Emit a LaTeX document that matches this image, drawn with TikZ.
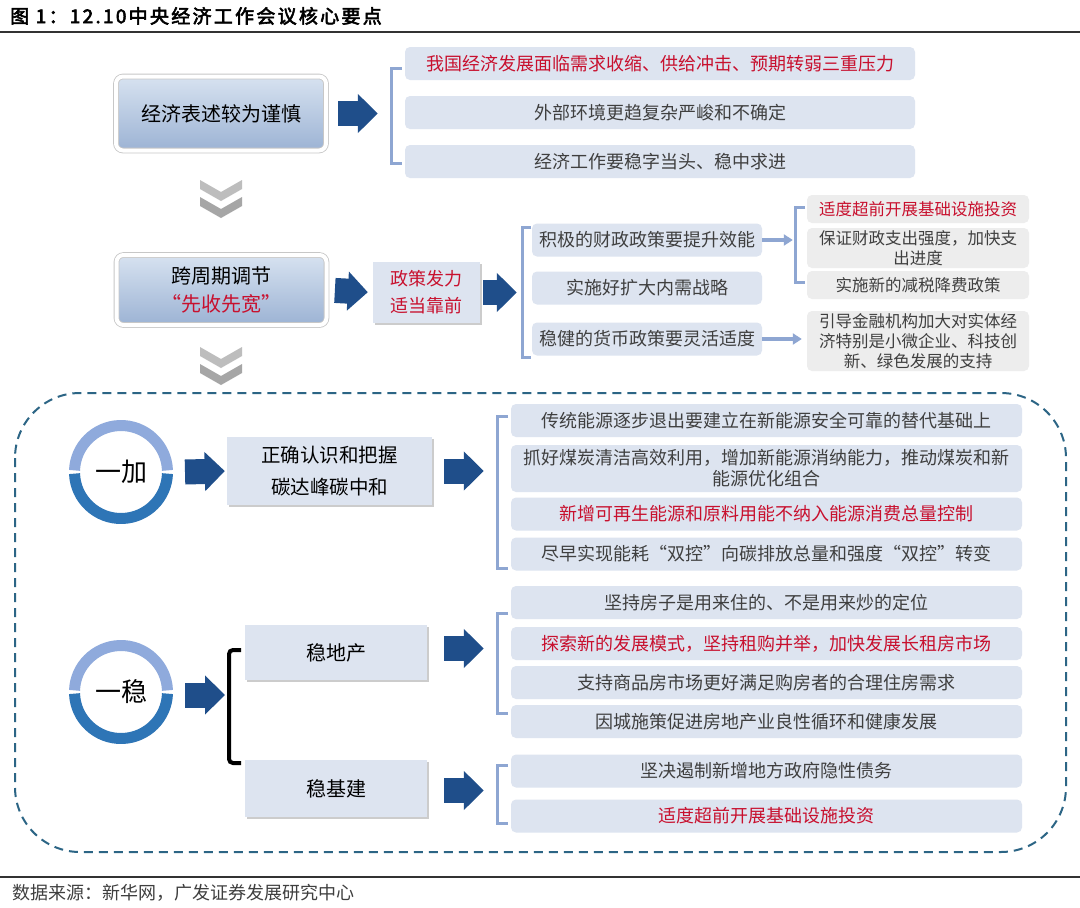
\documentclass[tikz,border=0pt]{standalone}
\usepackage{fontspec}
\setmainfont{Noto Sans CJK SC}[AutoFakeBold=2.5]
\newfontfamily\titlefont{Noto Sans CJK SC}[LetterSpace=12,AutoFakeBold=3]
\usetikzlibrary{shadows,arrows.meta}
\definecolor{boxblue}{HTML}{DDE4F0}
\definecolor{boxgray}{HTML}{EDEDED}
\definecolor{topblue}{HTML}{D7E2F0}
\definecolor{botblue}{HTML}{9CB3D4}
\definecolor{arrowblue}{HTML}{1F4E8A}
\definecolor{brkblue}{HTML}{8EA6D2}
\definecolor{ringtop}{HTML}{8FAADC}
\definecolor{ringbot}{HTML}{2E75B6}
\definecolor{frameblue}{HTML}{2C6585}
\definecolor{keyred}{HTML}{C8102E}
\definecolor{chevlight}{HTML}{BDBDBD}
\definecolor{chevgray}{HTML}{A6A6A6}
\definecolor{txtgray}{HTML}{3F3F3F}
\begin{document}
\begin{tikzpicture}[x=1pt,y=1pt,
  every node/.style={inner sep=0pt,font=\fontsize{18}{21}\selectfont},
  mainbox/.style={draw=black!22,line width=0.8pt,double=white,double distance=4pt,rounded corners=7pt,
    top color=topblue,bottom color=botblue,
    minimum width=210pt,minimum height=74pt,align=center,font=\fontsize{20}{28}\selectfont,
    drop shadow={shadow xshift=1pt,shadow yshift=-2pt,opacity=0.3}},
  listbox/.style={fill=boxblue,rounded corners=5pt,minimum height=33pt,text=txtgray,align=center},
  graybox/.style={fill=boxgray,rounded corners=5pt,minimum width=222pt,text=txtgray,align=center,
    font=\fontsize{16.5}{20}\selectfont},
  keybox/.style={fill=boxblue,align=center,font=\fontsize{20}{32}\selectfont,
    drop shadow={shadow xshift=2pt,shadow yshift=-2pt,opacity=0.4}},
  keytext/.style={text=keyred},
  ringlbl/.style={font=\fontsize{26}{26}\selectfont},
  blockarr/.style={draw=arrowblue,line width=25pt,-{Triangle[length=20pt,width=38pt]}},
  thinarr/.style={draw=brkblue,line width=3.5pt,-{Triangle[length=9pt,width=11pt]}},
  brkt/.style={draw=brkblue,line width=3pt},
  frame/.style={draw=frameblue,line width=2pt,dash pattern=on 9pt off 6pt,rounded corners=65pt}
]
\fill[white] (0,0) rectangle (1080,-908);
\useasboundingbox (0,0) rectangle (1080,-908);

\node[anchor=west,font=\titlefont\bfseries\fontsize{19}{22}\selectfont] (ttl) at (10,-16) {图 1：12.10中央经济工作会议核心要点};
\draw[line width=1.5pt,black!80] (0,-32) -- (1080,-32);
\draw[line width=1.5pt,black!80] (0,-877) -- (1080,-877);
\node[anchor=west,text=txtgray] (src) at (12,-893) {数据来源：新华网，广发证券发展研究中心};

\node[mainbox] (eco) at (221,-113.5) {经济表述较为谨慎};
\node[listbox,keytext,minimum width=510pt] (s1a) at (660,-63.5) {我国经济发展面临需求收缩、供给冲击、预期转弱三重压力};
\node[listbox,minimum width=510pt] (s1b) at (660,-112.5) {外部环境更趋复杂严峻和不确定};
\node[listbox,minimum width=510pt] (s1c) at (660,-161.5) {经济工作要稳字当头、稳中求进};
\draw[blockarr,shorten <=12pt,shorten >=27pt] (eco.east) -- (eco.east -| s1b.west);
\draw[brkt] (402,-68) -- (391,-68) -- (391,-163) -- (402,-163);

\foreach \cy in {180,347}
  \foreach \dy/\c in {0/chevlight,17/chevgray}
    \fill[\c] (200,-\cy-\dy) -- (221,-\cy-\dy-12) -- (242,-\cy-\dy) -- (242,-\cy-\dy-9)
      -- (221,-\cy-\dy-21) -- (200,-\cy-\dy-9) -- cycle;

\node[mainbox,minimum height=70pt] (cyc) at (221.5,-290) {跨周期调节\\\textcolor{keyred}{“先收先宽”}};
\node[keybox,keytext,minimum width=107pt,minimum height=61pt,font=\fontsize{18}{27}\selectfont] (pol) at (426.5,-292.5) {政策发力\\适当靠前};
\node[listbox,minimum width=230pt] (fis) at (647,-240) {积极的财政政策要提升效能};
\node[listbox,minimum width=230pt] (dom) at (647,-288) {实施好扩大内需战略};
\node[listbox,minimum width=230pt] (mon) at (647,-339) {稳健的货币政策要灵活适度};
\node[graybox,keytext,minimum height=28pt] (r1) at (918,-209) {适度超前开展基础设施投资};
\node[graybox,minimum height=40pt] (r2) at (918,-248) {保证财政支出强度，加快支\\出进度};
\node[graybox,minimum height=28pt] (r3) at (918,-285) {实施新的减税降费政策};
\node[graybox,minimum height=60pt] (r4) at (918,-341) {引导金融机构加大对实体经\\济特别是小微企业、科技创\\新、绿色发展的支持};
\draw[blockarr,shorten <=8pt,shorten >=5pt] (cyc.east) -- (pol.west);
\draw[blockarr,shorten <=3pt,shorten >=15pt] (pol.east) -- (pol.east -| fis.west);
\draw[brkt] (531,-227) -- (522,-227) -- (522,-357) -- (531,-357);
\draw[thinarr,shorten >=14pt] (fis.east) -- (fis.east -| r1.west);
\draw[thinarr,shorten >=5pt] (mon.east) -- (mon.east -| r4.west);
\draw[brkt] (805,-207) -- (795,-207) -- (795,-282) -- (805,-282);

\draw[frame] (15,-393) rectangle (1066,-852);

\node[ringlbl] (jia) at (121,-472) {一加};
\draw[ringtop,line width=11pt] ([shift={(2:46.5)}]jia.center) arc (2:178:46.5);
\draw[ringbot,line width=11pt] ([shift={(182:46.5)}]jia.center) arc (182:358:46.5);
\node[keybox,minimum width=205pt,minimum height=68pt,font=\fontsize{19.5}{32}\selectfont] (carb) at (329.5,-471) {正确认识和把握\\碳达峰碳中和};
\node[listbox,minimum width=511pt] (c1) at (766.5,-420.5) {传统能源逐步退出要建立在新能源安全可靠的替代基础上};
\node[listbox,minimum width=511pt,minimum height=47pt] (c2) at (766.5,-468.5) {抓好煤炭清洁高效利用，增加新能源消纳能力，推动煤炭和新\\能源优化组合};
\node[listbox,keytext,minimum width=511pt] (c3) at (766.5,-514) {新增可再生能源和原料用能不纳入能源消费总量控制};
\node[listbox,minimum width=511pt] (c4) at (766.5,-554) {尽早实现能耗“双控”向碳排放总量和强度“双控”转变};
\draw[blockarr,shorten >=2pt] ([xshift=64pt]jia.center) -- (carb.west);
\draw[blockarr,shorten <=12pt,shorten >=27pt] (carb.east) -- (carb.east -| c2.west);
\draw[brkt] (508,-416) -- (497,-416) -- (497,-568) -- (508,-568);

\node[ringlbl] (wen) at (121,-692) {一稳};
\draw[ringtop,line width=11pt] ([shift={(2:46.5)}]wen.center) arc (2:178:46.5);
\draw[ringbot,line width=11pt] ([shift={(182:46.5)}]wen.center) arc (182:358:46.5);
\node[keybox,minimum width=182pt,minimum height=55pt] (prop) at (336,-652.5) {稳地产};
\node[keybox,minimum width=182pt,minimum height=57pt] (infra) at (336,-788.5) {稳基建};
\draw[blockarr] ([xshift=64pt,yshift=-3pt]wen.center) -- ++(40,0);
\draw[black,line width=4pt,rounded corners=4pt] (241,-650) -- (229,-650) -- (229,-763) -- (241,-763);
\node[listbox,minimum width=511pt] (p1) at (766.5,-602.5) {坚持房子是用来住的、不是用来炒的定位};
\node[listbox,keytext,minimum width=511pt] (p2) at (766.5,-643.5) {探索新的发展模式，坚持租购并举，加快发展长租房市场};
\node[listbox,minimum width=511pt] (p3) at (766.5,-682.5) {支持商品房市场更好满足购房者的合理住房需求};
\node[listbox,minimum width=511pt] (p4) at (766.5,-721.5) {因城施策促进房地产业良性循环和健康发展};
\node[listbox,minimum width=511pt] (i1) at (766.5,-771) {坚决遏制新增地方政府隐性债务};
\node[listbox,keytext,minimum width=511pt] (i2) at (766.5,-816) {适度超前开展基础设施投资};
\draw[blockarr,shorten <=17pt,shorten >=27pt] ([yshift=4pt]prop.east) -- ([yshift=4pt]prop.east -| p2.west);
\draw[blockarr,shorten <=17pt,shorten >=27pt] ([yshift=-2pt]infra.east) -- ([yshift=-2pt]infra.east -| i1.west);
\draw[brkt] (508,-613) -- (497,-613) -- (497,-713) -- (508,-713);
\draw[brkt] (508,-765) -- (497,-765) -- (497,-823) -- (508,-823);
\end{tikzpicture}
\end{document}
